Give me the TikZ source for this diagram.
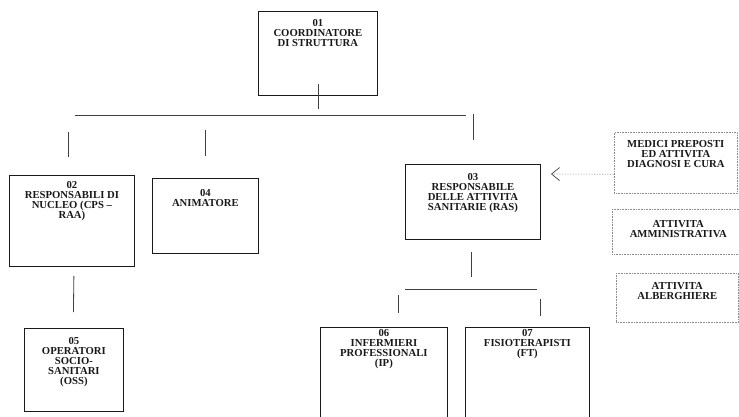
\documentclass[tikz,border=0pt]{standalone}
\usepackage{fontspec}
\setmainfont{Liberation Serif}
\definecolor{Frame}{HTML}{1A1A1A}
\definecolor{Wire}{HTML}{404040}
\definecolor{Dots}{HTML}{8C8C8C}
\usepackage{tikz}
\usetikzlibrary{positioning,arrows.meta}

\tikzset{
  orgbox/.style={draw=Frame,line width=0.8pt,inner sep=0pt,anchor=north west},
  extbox/.style={draw=Dots,densely dotted,line width=0.6pt,inner sep=0pt,anchor=north west},
  orgtxt/.style={inner sep=0pt,align=center,text=black!90,
    font=\fontsize{10.7}{10}\selectfont\bfseries},
  wire/.style={draw=Wire,line width=0.8pt},
}

\begin{document}
\begin{tikzpicture}[x=1pt,y=-1pt]
  \clip (0,0) rectangle (739,416);

  % Box 01: top of the chart
  \node[orgbox,minimum width=119pt,minimum height=84pt] (b01) at (258,11) {};
  \node[orgtxt,below=8pt of b01.north] (t01) {01\\COORDINATORE\\DI STRUTTURA};

  % Box 02 and 04: left branch
  \node[orgbox,minimum width=125pt,minimum height=91pt] (b02) at (9,175) {};
  \node[orgtxt,below=6pt of b02.north] (t02) {02\\RESPONSABILI DI\\NUCLEO (CPS --\\RAA)};
  \node[orgbox,minimum width=106pt,minimum height=75pt] (b04) at (152,178) {};
  \node[orgtxt,below=11pt of b04.north] (t04) {04\\ANIMATORE};

  % Box 03: health activities
  \node[orgbox,minimum width=135pt,minimum height=75pt] (b03) at (405,164) {};
  \node[orgtxt,below=9pt of b03.north] (t03) {03\\RESPONSABILE\\DELLE ATTIVITA\\SANITARIE (RAS)};

  % Box 05, 06, 07: bottom row
  \node[orgbox,minimum width=99pt,minimum height=83pt] (b05) at (24,328) {};
  \node[orgtxt,below=9pt of b05.north] (t05) {05\\OPERATORI\\SOCIO-\\SANITARI\\(OSS)};
  \node[orgbox,minimum width=127pt,minimum height=110pt] (b06) at (320,327) {};
  \node[orgtxt,below=2pt of b06.north] (t06) {06\\INFERMIERI\\PROFESSIONALI\\(IP)};
  \node[orgbox,minimum width=124pt,minimum height=110pt] (b07) at (465,327) {};
  \node[orgtxt,below=2pt of b07.north] (t07) {07\\FISIOTERAPISTI\\(FT)};

  % Dotted boxes on the right
  \node[extbox,minimum width=123pt,minimum height=61pt] (b08) at (614,132) {};
  \node[orgtxt,below=8pt of b08.north] (t08) {MEDICI PREPOSTI\\ED ATTIVITA\\DIAGNOSI E CURA};
  \node[extbox,minimum width=132pt,minimum height=45pt] (b09) at (612,209) {};
  \node[orgtxt,below=11pt of b09.north] (t09) {ATTIVITA\\AMMINISTRATIVA};
  \node[extbox,minimum width=122pt,minimum height=49pt] (b10) at (616,273) {};
  \node[orgtxt,below=9pt of b10.north] (t10) {ATTIVITA\\ALBERGHIERE};

  % Arrow from the dotted box towards box 03
  \coordinate (medtip) at (551,174);
  \draw[draw=Dots,densely dotted,line width=0.6pt,
    -{Straight Barb[length=8pt,width=13pt,line width=0.7pt,color=Wire]}]
    ([yshift=-11.5pt]b08.west) -- (medtip);

  % Upper connectors
  \coordinate (busL) at (75,115);
  \coordinate (busR) at (466,115);
  \draw[wire] ([yshift=12pt]b01.south) -- ++(0,25);
  \draw[wire] (busL) -- (busR);
  \draw[wire] (68,132) -- (68,157);
  \draw[wire] (205,130) -- (205,156);
  \draw[wire] (473,114) -- (473,140);

  % Connector 02 to 05
  \draw[wire] ([yshift=-9pt,xshift=2pt]b02.south) -- ([yshift=16pt,xshift=-0.5pt]b05.north);

  % Lower connectors under 03
  \coordinate (bus2L) at (405,289);
  \coordinate (bus2R) at (537,289);
  \draw[wire] (471,252) -- (471,277);
  \draw[wire] (bus2L) -- (bus2R);
  \draw[wire] (398,295) -- (398,313);
  \draw[wire] (540,299) -- (540,316);
\end{tikzpicture}
\end{document}
